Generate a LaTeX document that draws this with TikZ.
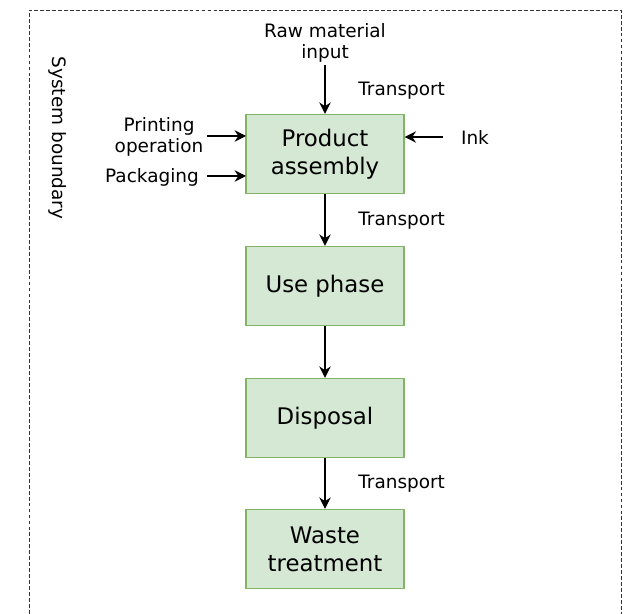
\documentclass[tikz,border=0pt]{standalone}
\usepackage{fontspec}
\setmainfont{DejaVu Sans}
\usetikzlibrary{arrows.meta}

\definecolor{boxfill}{HTML}{D5E8D4}
\definecolor{boxline}{HTML}{82B366}

\tikzset{
  stage/.style={draw=boxline,fill=boxfill,line width=0.8pt,minimum width=3.16cm,
    minimum height=1.58cm,align=center,font=\fontsize{13}{16}\selectfont},
  flow/.style={->,line width=0.6pt},
  small/.style={align=center,font=\fontsize{10.5}{11.5}\selectfont}
}

\begin{document}
\begin{tikzpicture}[x=0.02cm,y=-0.02cm,>={Stealth[length=6.5pt,width=6.5pt,inset=2.2pt]}]
 \useasboundingbox (0,0) rectangle (635,614);

 % system boundary (open at the bottom)
 \draw[dash pattern=on 2.2pt off 1.2pt,line width=0.5pt,black!80] (29,614) -- (29,10) -- (621,10) -- (621,614);
 \node[small,rotate=-90] (sysb) at (58,138) {System boundary};

 % the life cycle stages
 \node[stage] (asm)   at (325,154) {Product\\assembly};
 \node[stage] (use)   at (325,286) {Use phase};
 \node[stage] (disp)  at (325,418) {Disposal};
 \node[stage] (waste) at (325,549) {Waste\\treatment};

 % inputs
 \node[small,inner sep=1.5pt] (raw)   at (325,43)  {Raw material\\input};
 \node[small,inner sep=2pt]   (print) at (159,137) {Printing\\operation};
 \node[small,inner sep=2pt]   (pack)  at (152,177) {Packaging};
 \node[small]                 (ink)   at (475,137) {Ink};
 \coordinate (asmw1) at (246,136);
 \coordinate (asmw2) at (246,176);
 \coordinate (inkw)  at (443,137);

 \draw[flow] (raw) -- (asm);
 \draw[flow] (print.east |- asmw1) -- (asmw1);
 \draw[flow] (print.east |- asmw2) -- (asmw2);
 \draw[flow] (inkw) -- (inkw -| asm.east);

 % the chain
 \draw[flow] (asm) -- (use);
 \draw[flow] (use) -- (disp);
 \draw[flow] (disp) -- (waste);

 % transport labels
 \draw (358,91)  node[small,right,inner sep=0pt] {Transport}
       (358,221) node[small,right,inner sep=0pt] {Transport}
       (358,484) node[small,right,inner sep=0pt] {Transport};
\end{tikzpicture}
\end{document}
